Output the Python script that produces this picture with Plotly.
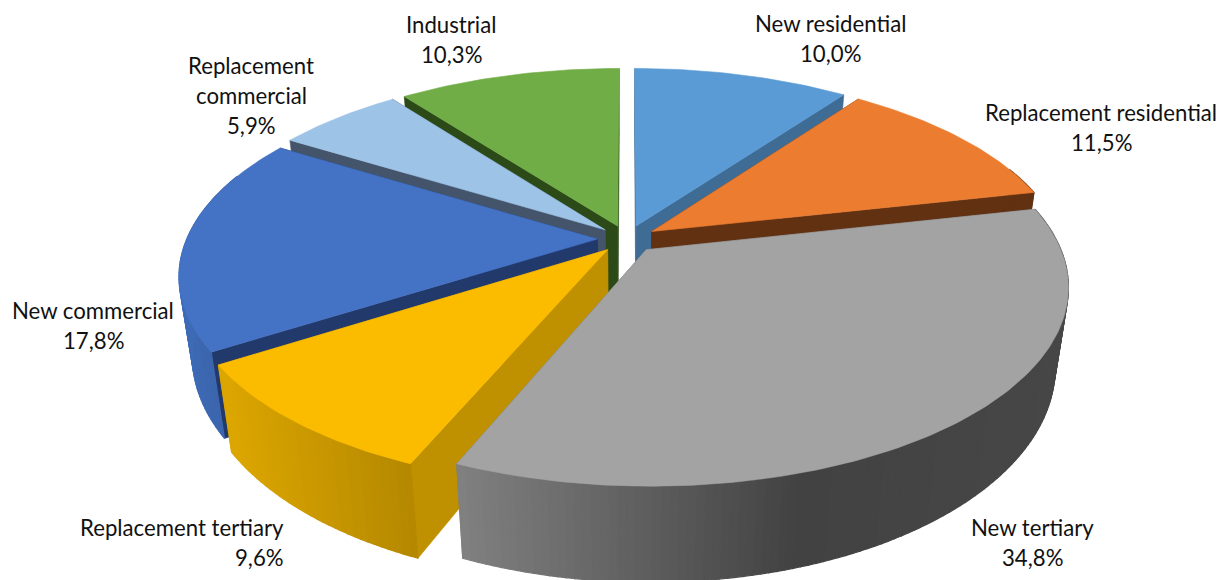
import numpy as np
import plotly.graph_objects as go

# Building stock shares, clockwise from twelve o'clock
categories = ["New residential", "Replacement residential", "New tertiary",
              "Replacement tertiary", "New commercial", "Replacement commercial", "Industrial"]
shares = [10.0, 11.5, 34.8, 9.6, 17.8, 5.9, 10.3]

top_colors = ["#5B9BD5", "#EB7C30", "#A3A3A3", "#FBBC00", "#4472C4", "#9DC3E6", "#70AD47"]
cut_colors = ["#3F6C95", "#623112", "#6E6E6E", "#BF9000", "#22396B", "#44546A", "#2C4A17"]
# Outer wall shading as (screen x, colour) stops
wall_ramps = [
    [(600, "#3F6C95"), (900, "#3F6C95")],
    [(800, "#623112"), (1100, "#623112")],
    [(458, "#808080"), (800, "#424242"), (1070, "#474747")],
    [(225, "#DCA600"), (415, "#B38700")],
    [(180, "#3E6BB6"), (228, "#3A62A8")],
    [(280, "#44546A"), (400, "#44546A")],
    [(400, "#2C4A17"), (620, "#2C4A17")],
]
# Back-to-front drawing order
paint_order = [6, 0, 5, 1, 4, 3, 2]

# Label text lines and their anchors (x, y of first line, horizontal anchor)
label_lines = [
    ["New residential"], ["Replacement residential"], ["New tertiary"],
    ["Replacement tertiary"], ["New commercial"], ["Replacement", "commercial"], ["Industrial"],
]
label_anchors = [
    (830, 23, "center"), (1101, 112, "center"), (1032, 527, "center"),
    (286, 527, "right"), (93, 310, "center"), (251, 65, "center"), (451, 24, "center"),
]
LINE_STEP = 30

# Projection of the pie plane onto the page
CX, CY = 627.0, 239.0
RADIUS_X, RADIUS_Y = 410.5, 190.0
DEPTH = 0.1785
EXPLODE = 0.0725
WALL = 78.0
VANISH_Y = 2700.0


def project(u, v):
    s = 1.0 / (1.0 - DEPTH * v)
    return CX + RADIUS_X * u * s, CY + RADIUS_Y * v * s, s


def drop(x, y, s):
    h = WALL * s
    return x + (CX - x) * h / VANISH_Y, y + h


def ramp_color(stops, x):
    xs = [p[0] for p in stops]
    rgb = [[int(p[1][i:i + 2], 16) for p in stops] for i in (1, 3, 5)]
    vals = [int(round(np.interp(x, xs, c))) for c in rgb]
    return "rgb({},{},{})".format(*vals)


def poly(xs, ys, color, width=0.6):
    return go.Scatter(x=list(xs) + [xs[0]], y=list(ys) + [ys[0]], mode="lines", fill="toself",
                      fillcolor=color, line=dict(color=color, width=width),
                      hoverinfo="skip", showlegend=False)


fig = go.Figure()
edges = np.cumsum([0.0] + shares) / sum(shares) * 2 * np.pi

for i in paint_order:
    a0, a1 = edges[i], edges[i + 1]
    mid = (a0 + a1) / 2
    ou, ov = EXPLODE * np.sin(mid), -EXPLODE * np.cos(mid)
    steps = max(int(np.degrees(a1 - a0)), 4)
    ang = np.linspace(a0, a1, steps + 1)
    ax, ay, a_s = project(ou, ov)
    arc = [project(ou + np.sin(t), ov - np.cos(t)) for t in ang]
    ax_d, ay_d = drop(ax, ay, a_s)

    # radial cut walls
    for p in (arc[0], arc[-1]):
        pd = drop(*p)
        fig.add_trace(poly([ax, p[0], pd[0], ax_d], [ay, p[1], pd[1], ay_d], cut_colors[i]))

    # outer wall, drawn as narrow quads so it can carry a shade ramp
    for j in range(steps):
        if -np.cos(ang[j]) < -0.35 and -np.cos(ang[j + 1]) < -0.35:
            continue
        p, q = arc[j], arc[j + 1]
        pd, qd = drop(*p), drop(*q)
        fig.add_trace(poly([p[0], q[0], qd[0], pd[0]], [p[1], q[1], qd[1], pd[1]],
                           ramp_color(wall_ramps[i], (p[0] + q[0]) / 2), width=1.2))

    # top face
    fig.add_trace(poly([ax] + [p[0] for p in arc], [ay] + [p[1] for p in arc], top_colors[i]))

# Data labels: category lines, then the share with a decimal comma
for lines, share, (x, y, anchor) in zip(label_lines, shares, label_anchors):
    for n, text in enumerate(lines + [f"{share:.1f}%".replace(".", ",")]):
        fig.add_annotation(x=x, y=y + n * LINE_STEP, text=text, showarrow=False,
                           xanchor=anchor, yanchor="middle", xref="x", yref="y",
                           font=dict(family="Lato", size=22.2, color="#111111"))

fig.update_layout(
    width=1222, height=580, margin=dict(l=0, r=0, t=0, b=0),
    paper_bgcolor="white", plot_bgcolor="white", showlegend=False,
    xaxis=dict(range=[0, 1222], visible=False, fixedrange=True),
    yaxis=dict(range=[580, 0], visible=False, fixedrange=True),
)
fig.write_html("out.html")
